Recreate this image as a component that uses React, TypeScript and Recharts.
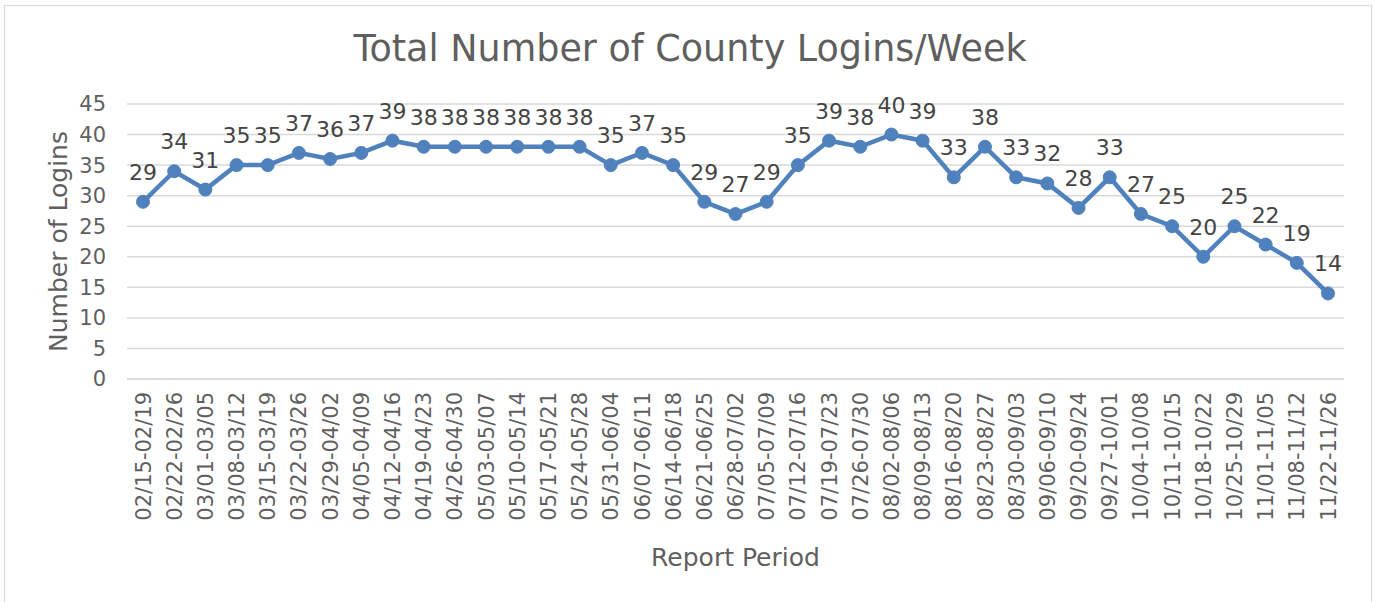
import React from 'react';
import { LineChart, Line, XAxis, YAxis, CartesianGrid, LabelList, Label } from 'recharts';

const periods = [
  '02/15-02/19', '02/22-02/26', '03/01-03/05', '03/08-03/12', '03/15-03/19',
  '03/22-03/26', '03/29-04/02', '04/05-04/09', '04/12-04/16', '04/19-04/23',
  '04/26-04/30', '05/03-05/07', '05/10-05/14', '05/17-05/21', '05/24-05/28',
  '05/31-06/04', '06/07-06/11', '06/14-06/18', '06/21-06/25', '06/28-07/02',
  '07/05-07/09', '07/12-07/16', '07/19-07/23', '07/26-07/30', '08/02-08/06',
  '08/09-08/13', '08/16-08/20', '08/23-08/27', '08/30-09/03', '09/06-09/10',
  '09/20-09/24', '09/27-10/01', '10/04-10/08', '10/11-10/15', '10/18-10/22',
  '10/25-10/29', '11/01-11/05', '11/08-11/12', '11/22-11/26',
];

const logins = [
  29, 34, 31, 35, 35, 37, 36, 37, 39, 38,
  38, 38, 38, 38, 38, 35, 37, 35, 29, 27,
  29, 35, 39, 38, 40, 39, 33, 38, 33, 32,
  28, 33, 27, 25, 20, 25, 22, 19, 14,
];

const yTicks = [0, 5, 10, 15, 20, 25, 30, 35, 40, 45];

const FONT = "'DejaVu Sans', sans-serif";
const GREY = '#5f5f5f';

const data = periods.map((p, i) => ({ period: p, logins: logins[i] }));

const PeriodTick = (props: any) => {
  const { x, y, payload } = props;
  return (
    <g transform={`translate(${x},${y})`}>
      <text
        transform="rotate(-90)"
        textAnchor="end"
        dy="0.36em"
        fill={GREY}
        fontSize={21}
        fontFamily={FONT}
      >
        {payload.value}
      </text>
    </g>
  );
};

const App: React.FC = () => {
  return (
    <div style={{ position: 'absolute', left: 0, top: 0, width: 1374, height: 602, background: '#fff' }}>
      <div
        style={{
          position: 'absolute', left: 4, top: 5, width: 1368, height: 600,
          border: '1.5px solid #d9d9d9', boxSizing: 'border-box',
        }}
      />
      <div
        style={{
          position: 'absolute', left: 0, top: 27, width: 1380, textAlign: 'center',
          fontFamily: FONT, fontSize: 36.5, color: GREY, lineHeight: '44px',
        }}
      >
        Total Number of County Logins/Week
      </div>
      <div style={{ position: 'absolute', left: 0, top: 0 }}>
        <LineChart
          width={1374}
          height={602}
          data={data}
          margin={{ top: 104, right: 30, left: 0, bottom: 0 }}
        >
          <CartesianGrid vertical={false} stroke="#d9d9d9" strokeWidth={1.5} />
          <XAxis
            dataKey="period"
            interval={0}
            height={223}
            padding={{ left: 16, right: 16 }}
            axisLine={{ stroke: '#d9d9d9', strokeWidth: 1.5 }}
            tickLine={false}
            tickMargin={7}
            tick={<PeriodTick />}
          >
            <Label
              value="Report Period"
              position="insideBottom"
              offset={36}
              fill={GREY}
              fontSize={25}
              fontFamily={FONT}
            />
          </XAxis>
          <YAxis
            width={127}
            domain={[0, 45]}
            ticks={yTicks}
            axisLine={false}
            tickLine={false}
            tickMargin={15}
            tick={{ fill: GREY, fontSize: 21, fontFamily: FONT }}
          >
            <Label
              value="Number of Logins"
              angle={-90}
              position="insideLeft"
              offset={58}
              style={{ textAnchor: 'middle' }}
              fill={GREY}
              fontSize={25}
              fontFamily={FONT}
            />
          </YAxis>
          <Line
            type="linear"
            dataKey="logins"
            stroke="#4f81bd"
            strokeWidth={4.5}
            dot={{ r: 6.5, fill: '#4f81bd', stroke: '#4f81bd', strokeWidth: 1 }}
            activeDot={false}
            isAnimationActive={false}
          >
            <LabelList
              dataKey="logins"
              position="top"
              offset={22}
              fill="#444444"
              fontSize={22}
              fontFamily={FONT}
            />
          </Line>
        </LineChart>
      </div>
    </div>
  );
};

export default App;
